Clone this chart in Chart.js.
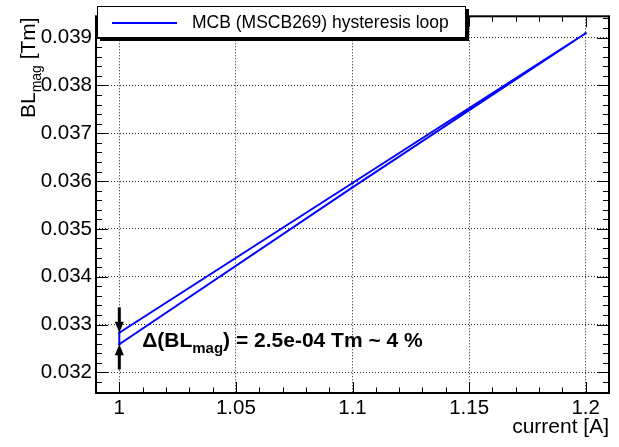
<!DOCTYPE html>
<html>
<head>
<meta charset="utf-8">
<script src="https://cdn.jsdelivr.net/npm/chart.js@4/dist/chart.umd.min.js"></script>
<style>
  html, body { margin: 0; padding: 0; background: #fff; }
</style>
</head>
<body>
<canvas id="hyst_chart" width="619" height="447"></canvas>
<script>
// hysteresis loop: up along the lower branch, back down along the upper one
const current = [1.0, 1.1, 1.2, 1.1, 1.0, 1.0];
const blMag = [0.03259, 0.03587, 0.03909, 0.03596, 0.03283, 0.03259];
const seriesLabel = 'MCB (MSCB269) hysteresis loop';

const xTicks = [1, 1.05, 1.1, 1.15, 1.2];
const xTickLabels = ['1', '1.05', '1.1', '1.15', '1.2'];
const yTicks = [0.032, 0.033, 0.034, 0.035, 0.036, 0.037, 0.038, 0.039];
const yTickLabels = ['0.032', '0.033', '0.034', '0.035', '0.036', '0.037', '0.038', '0.039'];

// delta arrows at I = 1 A (from, to)
const arrowDown = [0.03336, 0.03283];
const arrowUp = [0.03206, 0.03259];
const deltaText = ') = 2.5e-04 Tm ~ 4 %';
const deltaAt = [1.0098, 0.03254];

const FONT = '"Liberation Sans", Arial, Helvetica, sans-serif';
const BLUE = '#0000ff';

const frame = {
  id: 'frame',
  afterDraw(chart) {
    const ctx = chart.ctx;
    const a = chart.chartArea;
    const xs = chart.scales.x, ys = chart.scales.y;
    ctx.save();

    // tick marks, inward on all four sides
    ctx.strokeStyle = '#000';
    ctx.lineWidth = 1;
    ctx.beginPath();
    for (let i = 99; i <= 121; i++) {
      const v = i / 100;
      const px = Math.round(xs.getPixelForValue(v)) + 0.5;
      const len = (i % 5 === 0) ? 11 : 5.5;
      ctx.moveTo(px, a.bottom); ctx.lineTo(px, a.bottom - len);
      ctx.moveTo(px, a.top); ctx.lineTo(px, a.top + len);
    }
    for (let i = 158; i <= 197; i++) {
      const v = i / 5000;
      const py = Math.round(ys.getPixelForValue(v)) + 0.5;
      if (py < a.top || py > a.bottom) continue;
      const len = (i % 5 === 0) ? 12 : 6;
      ctx.moveTo(a.left, py); ctx.lineTo(a.left + len, py);
      ctx.moveTo(a.right, py); ctx.lineTo(a.right - len, py);
    }
    ctx.stroke();

    // frame
    ctx.lineWidth = 2;
    ctx.strokeRect(a.left, a.top, a.right - a.left, a.bottom - a.top);

    // arrows
    const ax = xs.getPixelForValue(current[0]);
    const arrow = (from, to) => {
      const y0 = ys.getPixelForValue(from), y1 = ys.getPixelForValue(to);
      const dir = Math.sign(y1 - y0);
      ctx.lineWidth = 3;
      ctx.beginPath();
      ctx.moveTo(ax, y0); ctx.lineTo(ax, y1 - dir * 8);
      ctx.stroke();
      ctx.beginPath();
      ctx.moveTo(ax, y1);
      ctx.lineTo(ax - 4.5, y1 - dir * 11);
      ctx.lineTo(ax + 4.5, y1 - dir * 11);
      ctx.closePath();
      ctx.fill();
    };
    ctx.fillStyle = '#000';
    arrow(arrowDown[0], arrowDown[1]);
    arrow(arrowUp[0], arrowUp[1]);

    // delta label
    let tx = xs.getPixelForValue(deltaAt[0]);
    const ty = ys.getPixelForValue(deltaAt[1]);
    ctx.textBaseline = 'alphabetic';
    ctx.textAlign = 'left';
    ctx.font = 'bold 21px ' + FONT;
    ctx.fillText('\u0394(BL', tx, ty);
    tx += ctx.measureText('\u0394(BL').width;
    ctx.font = 'bold 15px ' + FONT;
    ctx.fillText('mag', tx, ty + 6);
    tx += ctx.measureText('mag').width;
    ctx.font = 'bold 21px ' + FONT;
    ctx.fillText(deltaText, tx, ty);

    // legend box
    ctx.fillStyle = '#000';
    ctx.fillRect(100, 9, 369, 32);
    ctx.fillStyle = '#fff';
    ctx.fillRect(97, 6, 369, 32);
    ctx.lineWidth = 1;
    ctx.strokeStyle = '#000';
    ctx.strokeRect(97.5, 6.5, 368, 31);
    ctx.strokeStyle = BLUE;
    ctx.lineWidth = 2;
    ctx.beginPath();
    ctx.moveTo(112, 23); ctx.lineTo(177, 23);
    ctx.stroke();
    ctx.fillStyle = '#000';
    ctx.font = '17.5px ' + FONT;
    ctx.textBaseline = 'middle';
    ctx.fillText(chart.data.datasets[0].label, 192, 23);

    // axis titles
    ctx.textBaseline = 'alphabetic';
    ctx.textAlign = 'right';
    ctx.font = '21px ' + FONT;
    ctx.fillText('current [A]', a.right, 433);

    ctx.font = '21px ' + FONT;
    const w1 = ctx.measureText('BL').width;
    const w3 = ctx.measureText(' [Tm]').width;
    ctx.font = '14px ' + FONT;
    const w2 = ctx.measureText('mag').width;
    const total = w1 + w2 + w3;
    ctx.translate(35, a.top + 1 + total);
    ctx.rotate(-Math.PI / 2);
    ctx.textAlign = 'left';
    ctx.font = '21px ' + FONT;
    ctx.fillText('BL', 0, 0);
    ctx.font = '14px ' + FONT;
    ctx.fillText('mag', w1, 6);
    ctx.font = '21px ' + FONT;
    ctx.fillText(' [Tm]', w1 + w2, 0);

    ctx.restore();
  }
};

const ctx = document.getElementById('hyst_chart').getContext('2d');

new Chart(ctx, {
  type: 'line',
  data: {
    datasets: [{
      label: seriesLabel,
      data: current.map((c, i) => ({ x: c, y: blMag[i] })),
      borderColor: BLUE,
      backgroundColor: BLUE,
      borderWidth: 2,
      pointStyle: 'rect',
      pointRadius: 1.5,
      pointBorderWidth: 0,
      tension: 0,
      fill: false
    }]
  },
  options: {
    responsive: false,
    animation: false,
    layout: { padding: { top: 4, right: 10, left: 0, bottom: 0 } },
    plugins: {
      legend: { display: false },
      tooltip: { enabled: false }
    },
    scales: {
      x: {
        type: 'linear',
        min: 0.99,
        max: 1.21,
        afterBuildTicks: s => { s.ticks = xTicks.map(v => ({ value: v })); },
        afterFit: s => { s.height = 54; },
        ticks: {
          color: '#000',
          padding: 3,
          maxRotation: 0,
          font: { family: FONT, size: 20.5 },
          callback: v => xTickLabels[xTicks.indexOf(v)]
        },
        grid: { color: '#222', lineWidth: 1, drawTicks: false },
        border: { display: false, dash: [1, 2] }
      },
      y: {
        type: 'linear',
        min: 0.03157,
        max: 0.039445,
        afterBuildTicks: s => { s.ticks = yTicks.map(v => ({ value: v })); },
        afterFit: s => { s.width = 96; },
        ticks: {
          color: '#000',
          padding: 4,
          font: { family: FONT, size: 20.5 },
          callback: v => yTickLabels[yTicks.indexOf(v)]
        },
        grid: { color: '#222', lineWidth: 1, drawTicks: false },
        border: { display: false, dash: [1, 2] }
      }
    }
  },
  plugins: [frame]
});
</script>
</body>
</html>
